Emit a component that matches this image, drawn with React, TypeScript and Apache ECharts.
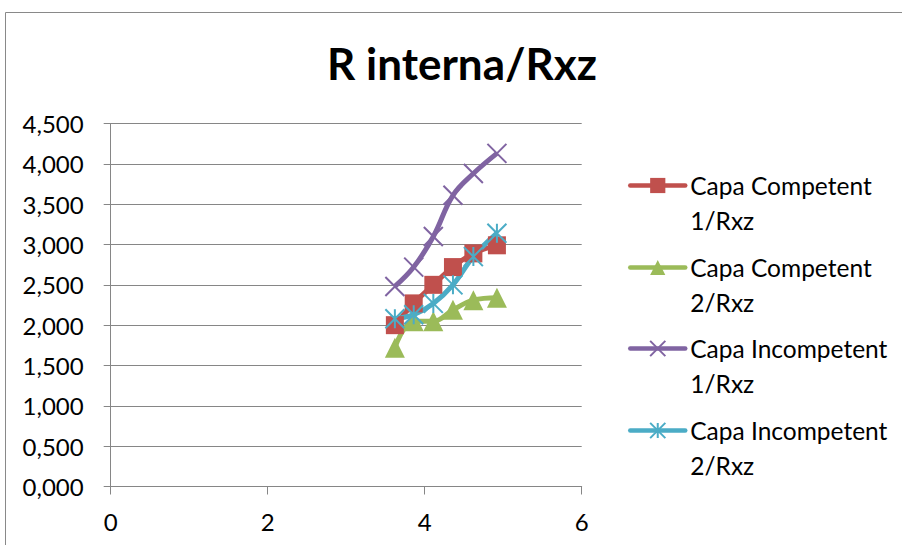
import React, { useEffect, useRef } from "react";
import * as echarts from "echarts";

const xValues = [3.62, 3.86, 4.11, 4.36, 4.62, 4.92];
const competent1 = [2.0, 2.27, 2.5, 2.72, 2.89, 2.99];
const competent2 = [1.72, 2.05, 2.05, 2.19, 2.31, 2.34];
const incompetent1 = [2.48, 2.72, 3.1, 3.61, 3.88, 4.13];
const incompetent2 = [2.08, 2.13, 2.27, 2.5, 2.85, 3.14];
const seriesValues = [competent1, competent2, incompetent1, incompetent2];
const seriesNames = [
  "Capa Competent 1/Rxz",
  "Capa Competent 2/Rxz",
  "Capa Incompetent 1/Rxz",
  "Capa Incompetent 2/Rxz",
];
const colors = ["#C0504D", "#9BBB59", "#8064A2", "#4BACC6"];
const symbols = [
  "rect",
  "triangle",
  "path://M0,0L10,10M0,10L10,0",
  "path://M0,0L10,10M0,10L10,0M5,0L5,10",
];
const symbolSizes = [18, 20, 19, 19];
const titleText = "R interna/Rxz";
const legendCenters = [185, 267, 348, 430];

const FONT = "Lato";

export default function App() {
  const ref = useRef<HTMLDivElement>(null);
  useEffect(() => {
    if (!ref.current) return;
    const chart = echarts.init(ref.current, null, { renderer: "svg" });
    const series = seriesNames.map((name, i) => ({
      name,
      type: "line",
      smooth: 0.4,
      data: xValues.map((x, j) => [x, seriesValues[i][j]]),
      symbol: symbols[i],
      symbolSize: symbolSizes[i],
      showAllSymbol: true,
      lineStyle: { color: colors[i], width: 5 },
      itemStyle: {
        color: colors[i],
        borderColor: colors[i],
        borderWidth: i >= 2 ? 2 : 0,
      },
      emphasis: { disabled: true },
    }));
    const legends = seriesNames.map((name, i) => ({
      data: [name],
      orient: "vertical",
      left: 628,
      top: legendCenters[i] - 12,
      padding: 0,
      itemWidth: 55,
      itemHeight: 19,
      selectedMode: false,
      lineStyle: { width: 4.5, cap: "round" },
      formatter: (n: string) => {
        const m = n.match(/^(.*) (\S+)$/);
        return m ? `{a|${m[1]}}\n{a|${m[2]}}` : `{a|${n}}`;
      },
      textStyle: {
        padding: [35, 0, 0, 0],
        rich: {
          a: { fontFamily: FONT, fontSize: 24.5, lineHeight: 35, color: "#000" },
        },
      },
    }));
    chart.setOption({
      animation: false,
      title: {
        text: titleText,
        left: 462,
        top: 41,
        padding: 0,
        textAlign: "center",
        textStyle: {
          fontFamily: FONT,
          fontWeight: "bold",
          fontSize: 44,
          lineHeight: 44,
          color: "#000",
        },
      },
      graphic: [
        {
          type: "rect",
          silent: true,
          shape: { x: 5.5, y: 12.5, width: 1000, height: 1000 },
          style: { fill: "none", stroke: "#898989", lineWidth: 1 },
        },
      ],
      legend: legends,
      grid: { left: 110.7, right: 320.3, top: 123.5, bottom: 58.5 },
      xAxis: {
        type: "value",
        min: 0,
        max: 6,
        interval: 2,
        splitLine: { show: false },
        axisLine: { show: true, onZero: false, lineStyle: { color: "#868686", width: 1 } },
        axisTick: { show: true, length: 8, lineStyle: { color: "#868686" } },
        axisLabel: {
          margin: 23,
          fontFamily: FONT,
          fontSize: 24,
          lineHeight: 24,
          color: "#000",
        },
      },
      yAxis: {
        type: "value",
        min: 0,
        max: 4.5,
        interval: 0.5,
        splitLine: { show: true, lineStyle: { color: "#868686", width: 1 } },
        axisLine: { show: true, lineStyle: { color: "#868686", width: 1 } },
        axisTick: { show: true, length: 7, lineStyle: { color: "#868686" } },
        axisLabel: {
          margin: 27,
          fontFamily: FONT,
          fontSize: 24,
          color: "#000",
          formatter: (v: number) => v.toFixed(3).replace(".", ","),
        },
      },
      series,
    });
    return () => chart.dispose();
  }, []);
  return (
    <div
      ref={ref}
      style={{ position: "absolute", left: 0, top: 0, width: 902, height: 545, background: "#fff" }}
    />
  );
}
